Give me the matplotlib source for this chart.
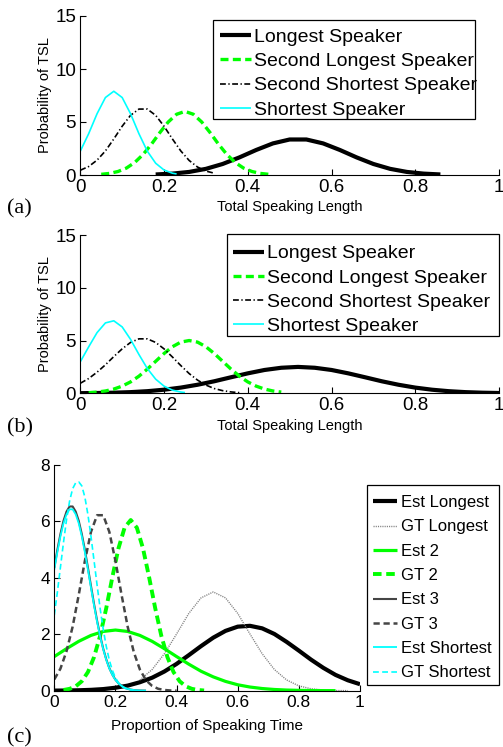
import matplotlib
matplotlib.use("Agg")
import matplotlib.pyplot as plt
from matplotlib.patches import Rectangle

plt.rcParams['font.family'] = ['Liberation Sans', 'DejaVu Sans']

# ---------------- Panel (a) data ----------------
a_long_x = [0.18, 0.22, 0.26, 0.30, 0.34, 0.38, 0.42, 0.46, 0.50, 0.54, 0.58, 0.62, 0.66, 0.70, 0.74, 0.78, 0.82, 0.86]
a_long_y = [0.05, 0.13, 0.29, 0.58, 1.04, 1.66, 2.36, 2.98, 3.35, 3.35, 2.98, 2.36, 1.66, 1.04, 0.58, 0.29, 0.13, 0.05]

a_seclong_x = [0.05, 0.07, 0.09, 0.11, 0.13, 0.15, 0.17, 0.19, 0.21, 0.23, 0.25, 0.27, 0.29, 0.31, 0.33, 0.35, 0.37, 0.39, 0.41, 0.43, 0.45]
a_seclong_y = [0.065, 0.15, 0.33, 0.65, 1.18, 1.94, 2.91, 4.00, 5.00, 5.73, 6.00, 5.73, 5.00, 4.00, 2.91, 1.94, 1.18, 0.65, 0.33, 0.15, 0.065]

a_secshort_x = [0.00, 0.02, 0.04, 0.06, 0.08, 0.10, 0.12, 0.14, 0.16, 0.18, 0.20, 0.22, 0.24, 0.26, 0.28, 0.30, 0.32]
a_secshort_y = [0.45, 0.80, 1.40, 2.27, 3.40, 4.60, 5.63, 6.22, 6.22, 5.63, 4.60, 3.40, 2.27, 1.37, 0.75, 0.37, 0.17]

a_short_x = [0.00, 0.02, 0.04, 0.06, 0.08, 0.10, 0.12, 0.14, 0.16, 0.18, 0.20, 0.22, 0.23]
a_short_y = [2.25, 3.90, 5.78, 7.31, 7.90, 7.31, 5.78, 3.90, 2.25, 1.11, 0.47, 0.17, 0.10]

# ---------------- Panel (b) data ----------------
b_long_x = [0.00, 0.04, 0.08, 0.12, 0.16, 0.20, 0.24, 0.28, 0.32, 0.36, 0.40, 0.44, 0.48, 0.52,
            0.56, 0.60, 0.64, 0.68, 0.72, 0.76, 0.80, 0.84, 0.88, 0.92, 0.96, 1.00]
b_long_y = [0.013, 0.028, 0.057, 0.11, 0.20, 0.34, 0.54, 0.81, 1.14, 1.52, 1.89, 2.21, 2.42, 2.50,
            2.42, 2.21, 1.89, 1.52, 1.14, 0.81, 0.54, 0.34, 0.20, 0.11, 0.057, 0.028]

b_seclong_x = [0.02, 0.04, 0.06, 0.08, 0.10, 0.12, 0.14, 0.16, 0.18, 0.20, 0.22, 0.24, 0.26,
               0.28, 0.30, 0.32, 0.34, 0.36, 0.38, 0.40, 0.42, 0.44, 0.46, 0.48]
b_seclong_y = [0.055, 0.114, 0.22, 0.40, 0.68, 1.08, 1.62, 2.29, 3.03, 3.77, 4.41, 4.85, 5.00,
               4.85, 4.41, 3.77, 3.03, 2.29, 1.62, 1.08, 0.68, 0.40, 0.22, 0.114]

b_secshort_x = [0.00, 0.02, 0.04, 0.06, 0.08, 0.10, 0.12, 0.14, 0.16, 0.18, 0.20, 0.22, 0.24,
                0.26, 0.28, 0.30, 0.32, 0.34, 0.36, 0.38]
b_secshort_y = [0.95, 1.40, 2.00, 2.70, 3.48, 4.21, 4.82, 5.16, 5.16, 4.82, 4.21, 3.44, 2.63,
                1.87, 1.25, 0.78, 0.45, 0.25, 0.13, 0.06]

b_short_x = [0.00, 0.02, 0.04, 0.06, 0.08, 0.10, 0.12, 0.14, 0.16, 0.18, 0.20, 0.22, 0.24, 0.25]
b_short_y = [2.99, 4.40, 5.75, 6.67, 6.87, 6.29, 5.11, 3.68, 2.35, 1.34, 0.68, 0.30, 0.12, 0.07]

# ---------------- Panel (c) data ----------------
c_estlong_x = [0.00, 0.04, 0.08, 0.12, 0.16, 0.20, 0.24, 0.28, 0.32, 0.36, 0.40, 0.44, 0.48,
               0.52, 0.56, 0.60, 0.64, 0.68, 0.72, 0.76, 0.80, 0.84, 0.88, 0.92, 0.96, 1.00]
c_estlong_y = [0.003, 0.007, 0.015, 0.030, 0.057, 0.105, 0.18, 0.30, 0.46, 0.68, 0.95, 1.26, 1.58,
               1.88, 2.12, 2.27, 2.30, 2.21, 2.01, 1.73, 1.42, 1.10, 0.81, 0.56, 0.37, 0.23]

c_gtlong_x = [0.28, 0.32, 0.36, 0.40, 0.44, 0.48, 0.52, 0.56, 0.60, 0.64, 0.68, 0.72, 0.76,
              0.80, 0.84, 0.88, 0.92, 0.96]
c_gtlong_y = [0.38, 0.75, 1.31, 2.01, 2.74, 3.29, 3.50, 3.29, 2.74, 2.01, 1.31, 0.75, 0.38,
              0.17, 0.068, 0.024, 0.007, 0.002]

c_est2_x = [0.00, 0.04, 0.08, 0.12, 0.16, 0.20, 0.24, 0.28, 0.32, 0.36, 0.40, 0.44, 0.48,
            0.52, 0.56, 0.60, 0.64, 0.68, 0.72, 0.76, 0.80, 0.84, 0.88, 0.92]
c_est2_y = [1.21, 1.49, 1.75, 1.96, 2.10, 2.15, 2.10, 1.96, 1.75, 1.49, 1.21, 0.94, 0.69,
            0.49, 0.33, 0.21, 0.13, 0.077, 0.043, 0.023, 0.012, 0.006, 0.003, 0.001]

c_gt2_x = [0.03, 0.05, 0.07, 0.09, 0.11, 0.13, 0.15, 0.17, 0.19, 0.21, 0.23, 0.25, 0.27,
           0.29, 0.31, 0.33, 0.35, 0.37, 0.39, 0.41, 0.43, 0.45, 0.47, 0.49]
c_gt2_y = [0.025, 0.066, 0.155, 0.335, 0.66, 1.19, 1.95, 2.93, 4.03, 5.05, 5.78, 6.05, 5.78,
           5.05, 4.03, 2.93, 1.95, 1.19, 0.66, 0.335, 0.155, 0.066, 0.025, 0.008]

c_est3_x = [0.00, 0.01, 0.02, 0.03, 0.04, 0.05, 0.06, 0.07, 0.08, 0.09, 0.10, 0.11, 0.12, 0.13,
            0.14, 0.15, 0.16, 0.17, 0.18, 0.19, 0.20, 0.21, 0.22, 0.23, 0.24, 0.25, 0.26, 0.27,
            0.28, 0.29, 0.30]
c_est3_y = [4.36, 4.99, 5.55, 6.02, 6.35, 6.53, 6.53, 6.35, 6.02, 5.55, 4.99, 4.36, 3.71, 3.07,
            2.48, 1.95, 1.49, 1.11, 0.80, 0.57, 0.39, 0.26, 0.17, 0.107, 0.066, 0.039, 0.023, 0.013,
            0.007, 0.004, 0.002]

c_gt3_x = [0.00, 0.02, 0.04, 0.06, 0.08, 0.10, 0.12, 0.14, 0.16, 0.18, 0.20, 0.22, 0.24, 0.26,
           0.28, 0.30, 0.32, 0.34, 0.36, 0.38, 0.40]
c_gt3_y = [0.40, 0.78, 1.40, 2.27, 3.40, 4.60, 5.63, 6.22, 6.22, 5.63, 4.60, 3.40, 2.27, 1.37,
           0.75, 0.37, 0.17, 0.067, 0.025, 0.008, 0.002]

c_estshort_x = [0.00, 0.01, 0.02, 0.03, 0.04, 0.05, 0.06, 0.07, 0.08, 0.09, 0.10, 0.11, 0.12, 0.13,
                0.14, 0.15, 0.16, 0.17, 0.18, 0.19, 0.20, 0.21, 0.22, 0.23, 0.24, 0.25, 0.26, 0.27,
                0.28, 0.29, 0.30]
c_estshort_y = [4.29, 4.91, 5.47, 5.93, 6.25, 6.43, 6.43, 6.25, 5.93, 5.47, 4.91, 4.29, 3.65, 3.02,
                2.44, 1.92, 1.47, 1.09, 0.79, 0.56, 0.38, 0.26, 0.17, 0.105, 0.065, 0.038, 0.023, 0.013,
                0.007, 0.004, 0.002]

c_gtshort_x = [0.00, 0.01, 0.02, 0.03, 0.04, 0.05, 0.06, 0.07, 0.08, 0.09, 0.10, 0.11, 0.12, 0.13,
               0.14, 0.15, 0.16, 0.17, 0.18, 0.19, 0.20, 0.21, 0.22, 0.23, 0.24, 0.25, 0.26]
c_gtshort_y = [2.68, 3.49, 4.37, 5.25, 6.06, 6.72, 7.16, 7.37, 7.40, 7.26, 6.86, 6.24, 5.47, 4.61,
               3.74, 2.91, 2.18, 1.57, 1.08, 0.72, 0.46, 0.28, 0.16, 0.09, 0.05, 0.025, 0.012]

legend_ab = ['Longest Speaker', 'Second Longest Speaker', 'Second Shortest Speaker', 'Shortest Speaker']
legend_c = ['Est Longest', 'GT Longest', 'Est 2', 'GT 2', 'Est 3', 'GT 3', 'Est Shortest', 'GT Shortest']
xticks = [0, 0.2, 0.4, 0.6, 0.8, 1]
xtick_labels = ['0', '0.2', '0.4', '0.6', '0.8', '1']
yticks_ab = [0, 5, 10, 15]
yticks_c = [0, 2, 4, 6, 8]

W, H = 503, 747
fig = plt.figure(figsize=(W / 100, H / 100), dpi=100)


def px_axes(l, t, r, b):
    return fig.add_axes([l / W, 1 - b / H, (r - l) / W, (b - t) / H])


def px_rect(ax, l, t, r, b):
    rect = Rectangle((l / W, 1 - b / H), (r - l) / W, (b - t) / H, transform=fig.transFigure,
                     facecolor='white', edgecolor='black', linewidth=0.9, zorder=4.9, clip_on=False)
    ax.add_patch(rect)


def style(ax, fs):
    for s in ['top', 'right']:
        ax.spines[s].set_visible(False)
    for s in ['left', 'bottom']:
        ax.spines[s].set_linewidth(0.8)
    ax.tick_params(direction='in', length=4, width=0.8, labelsize=fs, pad=3)
    ax.set_xlim(0, 1)
    ax.set_xticks(xticks)
    ax.set_xticklabels(xtick_labels)


GREEN = (0, 1, 0)
CYAN = (0, 1, 1)
DGRAY = (0.27, 0.27, 0.27)
LGRAY = (0.5, 0.5, 0.5)

series_ab = [
    ((a_long_x, a_long_y), (b_long_x, b_long_y)),
    ((a_seclong_x, a_seclong_y), (b_seclong_x, b_seclong_y)),
    ((a_secshort_x, a_secshort_y), (b_secshort_x, b_secshort_y)),
    ((a_short_x, a_short_y), (b_short_x, b_short_y)),
]
styles_ab = [
    dict(color='black', lw=3.0, ls='-'),
    dict(color=GREEN, lw=2.4, dashes=(2.4, 1.3)),
    dict(color='black', lw=1.2, dashes=(3.5, 1.5, 0.8, 1.5)),
    dict(color=CYAN, lw=1.2, ls='-'),
]

# (left, top, right, bottom, idx, legend frame, legend anchor, tag, tag_y)
panels = [
    (80.3, 16, 499, 175, 0, (213.3, 20, 475, 119), (220, 28.3), '(a)', 209),
    (80.3, 235, 499, 393.3, 1, (226.7, 234, 499, 336), (233.3, 244.7), '(b)', 428),
]
for (l, t, r, b, idx, frame, anchor, tag, tagy) in panels:
    ax = px_axes(l, t, r, b)
    style(ax, 13.5)
    ax.set_ylim(0, 15)
    ax.set_yticks(yticks_ab)
    for (xy, st, name) in zip(series_ab, styles_ab, legend_ab):
        xs, ys = xy[idx]
        ax.plot(xs, ys, label=name, solid_capstyle='butt', dash_capstyle='butt', **st)
    px_rect(ax, *frame)
    leg = ax.legend(loc='upper left', bbox_to_anchor=(anchor[0] / W, 1 - anchor[1] / H),
                    bbox_transform=fig.transFigure, fontsize=14, frameon=False,
                    handlelength=1.6, handletextpad=0.14,
                    labelspacing=0.34, borderpad=0, borderaxespad=0)
    leg.set_zorder(5)
    ax.set_xlabel('Total Speaking Length', fontsize=10.5)
    ax.set_ylabel('Probability of TSL', fontsize=10.5)
    ax.xaxis.label.set_va('center')
    ax.yaxis.label.set_va('center')
    hpx = b - t
    wpx = r - l
    ax.xaxis.set_label_coords((290 - l) / wpx, (b - (tagy - 2)) / hpx)
    ax.yaxis.set_label_coords((45 - l) / wpx, 0.5)
    fig.text(7 / W, 1 - tagy / H, tag, family=['Liberation Serif'], fontsize=16, va='center', ha='left')

# ---------------- Panel (c) ----------------
axc = px_axes(54.3, 465, 360, 690.7)
style(axc, 12.5)
axc.set_ylim(0, 8)
axc.set_yticks(yticks_c)
series_c = [
    (c_estlong_x, c_estlong_y, dict(color='black', lw=3.0, ls='-')),
    (c_gtlong_x, c_gtlong_y, dict(color=LGRAY, lw=1.0, dashes=(0.8, 0.8))),
    (c_est2_x, c_est2_y, dict(color=GREEN, lw=2.3, ls='-')),
    (c_gt2_x, c_gt2_y, dict(color=GREEN, lw=2.8, dashes=(2.2, 1.2))),
    (c_est3_x, c_est3_y, dict(color=DGRAY, lw=1.5, ls='-')),
    (c_gt3_x, c_gt3_y, dict(color=DGRAY, lw=1.8, dashes=(2.5, 1.5))),
    (c_estshort_x, c_estshort_y, dict(color=CYAN, lw=1.3, ls='-')),
    (c_gtshort_x, c_gtshort_y, dict(color=CYAN, lw=1.2, dashes=(3.5, 2.0))),
]
for (xs, ys, st), name in zip(series_c, legend_c):
    axc.plot(xs, ys, label=name, solid_capstyle='butt', dash_capstyle='butt', **st)
px_rect(axc, 366.7, 485, 498.5, 685)
legc = axc.legend(loc='upper left', bbox_to_anchor=(372.7 / W, 1 - 495 / H),
                  bbox_transform=fig.transFigure, fontsize=12, frameon=False,
                  handlelength=1.48, handletextpad=0.2,
                  labelspacing=0.56, borderpad=0, borderaxespad=0)
legc.set_zorder(5)
axc.set_xlabel('Proportion of Speaking Time', fontsize=11)
axc.xaxis.label.set_va('center')
axc.xaxis.set_label_coords((207 - 54.3) / 305.7, (690.7 - 726) / 225.7)
fig.text(7 / W, 1 - 738 / H, '(c)', family=['Liberation Serif'], fontsize=16, va='center', ha='left')

fig.savefig('out.png', dpi=100)
